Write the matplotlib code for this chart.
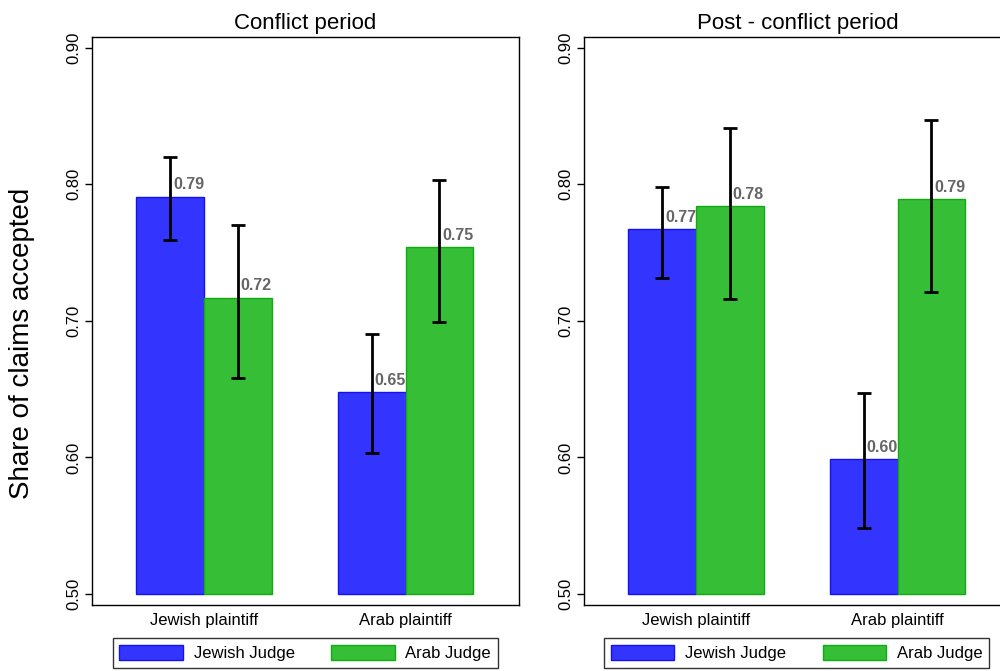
import numpy as np
import matplotlib
matplotlib.use('Agg')
import matplotlib.pyplot as plt
from matplotlib.patches import Patch

plt.rcParams['font.family'] = ['Liberation Sans', 'DejaVu Sans']

groups = ['Jewish plaintiff', 'Arab plaintiff']
judges = ['Jewish Judge', 'Arab Judge']
y_ticks = [0.50, 0.60, 0.70, 0.80, 0.90]

# conflict period
conflict_jewish_judge = [0.791, 0.648]
conflict_jewish_lo = [0.759, 0.603]
conflict_jewish_hi = [0.820, 0.690]
conflict_arab_judge = [0.717, 0.754]
conflict_arab_lo = [0.658, 0.699]
conflict_arab_hi = [0.770, 0.803]

# post-conflict period
post_jewish_judge = [0.767, 0.599]
post_jewish_lo = [0.731, 0.548]
post_jewish_hi = [0.798, 0.647]
post_arab_judge = [0.784, 0.789]
post_arab_lo = [0.716, 0.721]
post_arab_hi = [0.841, 0.847]

BLUE = '#3434FF'
BLUE_EDGE = '#1212F0'
GREEN = '#36BF36'
GREEN_EDGE = '#12AA12'


def draw_panel(ax, title, jew, jew_lo, jew_hi, arab, arab_lo, arab_hi):
    x = np.arange(len(groups))
    w = 0.335
    series = [
        (x - w / 2, jew, jew_lo, jew_hi, BLUE, BLUE_EDGE, 2),
        (x + w / 2, arab, arab_lo, arab_hi, GREEN, GREEN_EDGE, 4),
    ]
    for xs, vals, lo, hi, fc, ec, z in series:
        vals = np.array(vals)
        ax.bar(xs, vals - 0.5, w, bottom=0.5, color=fc, edgecolor=ec,
               linewidth=1.0, zorder=z)
        for xi, v in zip(xs, vals):
            ax.annotate(f'{v:.2f}', (xi, v), xytext=(2.0, 3.0),
                        textcoords='offset points', ha='left', va='bottom',
                        fontsize=11.5, fontweight='bold', color='#666666',
                        zorder=z + 0.5)
    for xs, vals, lo, hi, fc, ec, z in series:
        vals = np.array(vals)
        err = [vals - np.array(lo), np.array(hi) - vals]
        ax.errorbar(xs, vals, yerr=err, fmt='none', ecolor='black',
                    elinewidth=2.0, capsize=5, capthick=2.0, zorder=10)

    ax.set_xlim(-0.555, 1.562)
    ax.set_ylim(0.492, 0.9078)
    ax.set_yticks(y_ticks)
    ax.set_yticklabels([f'{t:.2f}' for t in y_ticks], rotation=90, va='center')
    ax.set_xticks(x)
    ax.set_xticklabels(groups)
    ax.tick_params(axis='y', length=5, width=1, labelsize=12, pad=3)
    ax.tick_params(axis='x', length=0, labelsize=12, pad=6)
    for s in ax.spines.values():
        s.set_linewidth(1.0)
    ax.set_title(title, fontsize=16, pad=6)


fig = plt.figure(figsize=(10, 6.71), dpi=100)
ax1 = fig.add_axes([0.092, 0.0984, 0.427, 0.8465])
ax2 = fig.add_axes([0.584, 0.0984, 0.427, 0.8465])

draw_panel(ax1, 'Conflict period', conflict_jewish_judge, conflict_jewish_lo,
           conflict_jewish_hi, conflict_arab_judge, conflict_arab_lo, conflict_arab_hi)
draw_panel(ax2, 'Post - conflict period', post_jewish_judge, post_jewish_lo,
           post_jewish_hi, post_arab_judge, post_arab_lo, post_arab_hi)

fig.text(0.022, 0.488, 'Share of claims accepted', rotation=90,
         ha='center', va='center', fontsize=20)

handles = [Patch(facecolor=BLUE, edgecolor=BLUE_EDGE, linewidth=1.0),
           Patch(facecolor=GREEN, edgecolor=GREEN_EDGE, linewidth=1.0)]
for x0 in [0.1127, 0.604]:
    leg = fig.legend(handles, judges, ncol=2, loc='center',
                     bbox_to_anchor=(x0, 0.003, 0.385, 0.0477), mode='expand',
                     fontsize=12, handlelength=3.8, handleheight=1.0,
                     handletextpad=0.65, borderpad=0.4, borderaxespad=0,
                     fancybox=False, framealpha=1, edgecolor='#333333')
    leg.get_frame().set_linewidth(1.0)

fig.savefig('out.png', dpi=100)
